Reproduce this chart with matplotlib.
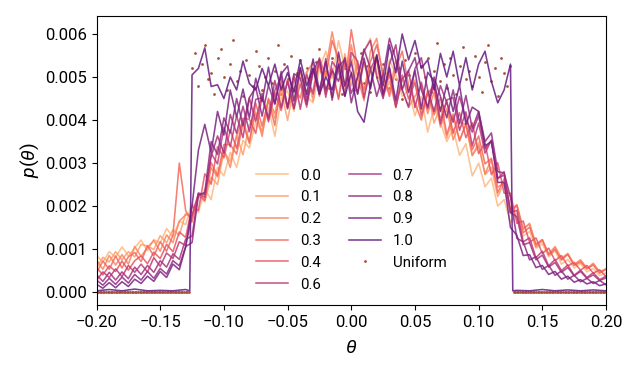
import numpy as np
import matplotlib
matplotlib.use("Agg")
import matplotlib.pyplot as plt
from matplotlib.ticker import FuncFormatter

plt.rcParams['font.family'] = ['Roboto', 'DejaVu Sans']
plt.rcParams['mathtext.fontset'] = 'custom'
plt.rcParams['mathtext.it'] = 'Roboto:italic'
plt.rcParams['mathtext.rm'] = 'Roboto'

# ---- data (values in units of 1e-5) ----
theta = np.linspace(-0.2, 0.2, 81)

p_00 = [85,70,94,81,105,84,103,121,96,122,114,148,128,165,157,207,185,240,215,290,
        270,325,290,353,335,395,372,430,362,450,468,420,505,455,440,520,560,498,585,520,548,
        475,560,590,512,470,540,505,455,470,410,455,372,430,395,350,380,318,345,270,300,
        245,265,200,215,162,182,130,141,102,112,82,96,65,76,56,67,47,55,38,45]
p_01 = [56,81,70,94,75,94,82,111,107,99,131,115,145,132,183,173,227,210,267,250,
        328,303,365,319,389,414,373,451,403,469,399,478,451,513,444,535,460,509,452,554,480,
        530,454,512,539,455,490,429,498,466,493,419,469,393,431,358,409,354,389,317,348,
        273,290,222,253,185,201,145,160,112,122,88,106,79,90,65,74,55,65,47,54]
p_02 = [75,53,85,63,87,65,106,83,104,120,95,133,115,165,180,178,223,214,289,268,
        330,290,363,400,350,419,362,449,415,480,425,470,452,510,535,455,520,605,530,470,575,
        500,445,560,590,500,465,540,470,430,455,480,415,465,384,427,354,395,390,318,340,
        275,308,244,254,183,203,148,158,105,120,88,104,74,88,63,75,55,67,46,54]
p_03 = [45,72,53,84,56,82,92,71,108,84,117,95,132,300,190,163,228,213,301,271,
        343,343,321,392,346,439,386,447,387,491,430,490,515,460,470,545,500,585,540,480,610,
        520,470,535,575,505,455,520,560,480,440,400,466,412,452,366,414,351,392,331,363,
        298,311,231,263,193,202,138,151,110,122,86,99,76,88,62,70,54,63,44,53]
p_04 = [57,40,61,48,72,51,73,84,66,93,78,111,94,140,127,200,190,275,251,338,
        312,377,334,404,402,369,455,400,464,422,495,427,484,430,511,531,461,520,448,535,511,
        461,535,473,545,456,506,431,505,449,487,410,462,479,400,445,369,417,359,394,322,
        347,273,301,230,230,160,165,116,126,90,102,73,85,61,69,51,62,44,52,36]
p_06 = [27,47,34,54,36,62,46,65,47,80,60,91,78,117,108,178,230,220,323,298,
        383,338,410,359,451,397,462,396,469,501,428,504,425,505,460,539,453,536,514,456,557,
        537,451,519,546,458,519,430,495,515,429,488,426,484,391,447,452,376,419,340,393,
        323,353,263,280,185,190,117,126,80,95,61,76,50,63,39,51,34,45,29,37]
p_07 = [40,25,46,28,47,31,58,41,62,46,73,58,89,76,123,130,230,227,315,363,
        323,413,369,432,373,448,452,405,492,429,490,426,521,446,520,459,543,446,524,541,462,
        500,560,585,500,450,530,575,470,430,520,545,470,420,480,440,395,455,400,372,410,
        333,353,265,272,185,175,110,115,75,86,58,69,46,57,38,48,32,40,27,33]
p_08 = [28,16,32,18,35,21,41,28,48,32,55,42,73,61,106,115,225,232,350,320,
        405,370,450,387,452,476,409,481,437,513,428,508,497,436,514,542,470,515,490,545,440,
        500,565,520,455,505,590,540,470,515,545,470,430,500,455,405,470,392,457,380,420,
        350,370,280,277,220,125,117,75,82,53,62,39,49,30,39,24,32,20,27,17]
p_09 = [18,9,22,10,24,13,30,20,37,25,48,34,65,52,105,200,330,390,325,420,
        365,470,407,472,405,497,443,523,438,507,526,444,522,460,542,469,536,452,558,479,535,
        460,544,473,552,460,523,445,537,464,515,426,511,491,420,483,420,481,390,430,420,
        340,350,255,255,150,132,85,87,57,62,41,48,30,37,23,29,19,24,15,19]

theta_box = ([-0.2, -0.19, -0.18, -0.17, -0.16, -0.15, -0.14, -0.13, -0.1268]
             + list(np.linspace(-0.125, 0.125, 51))
             + [0.1268, 0.13, 0.14, 0.15, 0.16, 0.17, 0.18, 0.19, 0.2])
p_10 = [3,6,3,7,3,4,3,6,3,
        505,520,568,478,482,450,500,470,537,485,
        470,520,480,530,470,510,465,540,480,520,
        460,500,470,530,455,510,420,395,480,550,
        480,575,510,600,540,585,520,540,470,555,
        500,560,480,545,470,530,560,490,440,470,
        530,
        3,4,3,6,3,5,3,5,3]

theta_uniform = (list(np.linspace(-0.2, -0.1275, 59))
                 + list(np.linspace(-0.125, 0.125, 101))
                 + list(np.linspace(0.1275, 0.2, 59)))
p_uniform = ([0,0,0,0,0,0,0,0,0,0,0,0,0,0,0,0,0,0,0,0,0,0,0,0,0,0,0,0,0,0,
              0,0,0,0,0,0,0,0,0,0,0,0,0,0,0,0,0,0,0,0,0,0,0,0,0,0,0,0,0]
             + [520,555,480,530,575,495,510,460,545,565,
                500,470,530,585,490,515,455,540,505,480,
                560,525,470,500,545,485,515,575,460,530,
                495,550,470,510,540,480,520,500,455,535,
                565,490,515,475,545,500,530,460,520,495,
                540,470,510,555,485,525,465,545,500,480,
                530,510,475,560,495,520,450,540,505,485,
                555,470,525,500,545,465,515,580,490,530,
                475,545,505,460,525,570,495,515,480,550,
                500,465,535,575,490,520,455,545,510,480,
                525]
             + [0,0,0,0,0,0,0,0,0,0,0,0,0,0,0,0,0,0,0,0,0,0,0,0,0,0,0,0,0,0,
                0,0,0,0,0,0,0,0,0,0,0,0,0,0,0,0,0,0,0,0,0,0,0,0,0,0,0,0,0])

labels = ['0.0', '0.1', '0.2', '0.3', '0.4', '0.6', '0.7', '0.8', '0.9', '1.0']
alphas = [0.0, 0.1, 0.2, 0.3, 0.4, 0.6, 0.7, 0.8, 0.9, 1.0]
series = [p_00, p_01, p_02, p_03, p_04, p_06, p_07, p_08, p_09, p_10]
unit = 1e-5

# ---- plot ----
fig = plt.figure(figsize=(6.4, 3.73), dpi=100)
ax = fig.add_axes([0.1508, 0.1823, 0.7961, 0.7761])

cmap = plt.get_cmap('magma')
for lab, a, vals in zip(labels, alphas, series):
    x = theta_box if lab == '1.0' else theta
    ax.plot(x, np.array(vals) * unit, color=cmap(0.85 - 0.55 * a), lw=1.15,
            alpha=0.85, label=lab, zorder=2)

ax.plot(theta_uniform, np.array(p_uniform) * unit, linestyle='none', marker='o',
        ms=2.0, mew=0, color='#a5513a', label='Uniform', zorder=1.5)


def fmt(decimals):
    def f(v, pos):
        s = f"{v:.{decimals}f}"
        if float(s) == 0:
            s = s.lstrip('-')
        return s.replace('-', '\u2212')
    return FuncFormatter(f)


ax.set_xlim(-0.2, 0.2)
ax.set_ylim(-0.0003, 0.00643)
ax.set_xticks(np.arange(-0.2, 0.2001, 0.05))
ax.set_yticks(np.arange(0, 0.00601, 0.001))
ax.xaxis.set_major_formatter(fmt(2))
ax.yaxis.set_major_formatter(fmt(3))
ax.tick_params(labelsize=12, pad=3.5)
ax.set_xlabel(r'$\theta$', fontsize=14, labelpad=7)
ax.set_ylabel(r'$p(\theta)$', fontsize=14, labelpad=3)

ax.legend(ncol=2, frameon=False, loc='lower center', bbox_to_anchor=(0.5, 0.0),
          fontsize=10.8, handlelength=2.1, handletextpad=0.8, columnspacing=1.9,
          labelspacing=0.52)

fig.savefig('out.png', dpi=100)
